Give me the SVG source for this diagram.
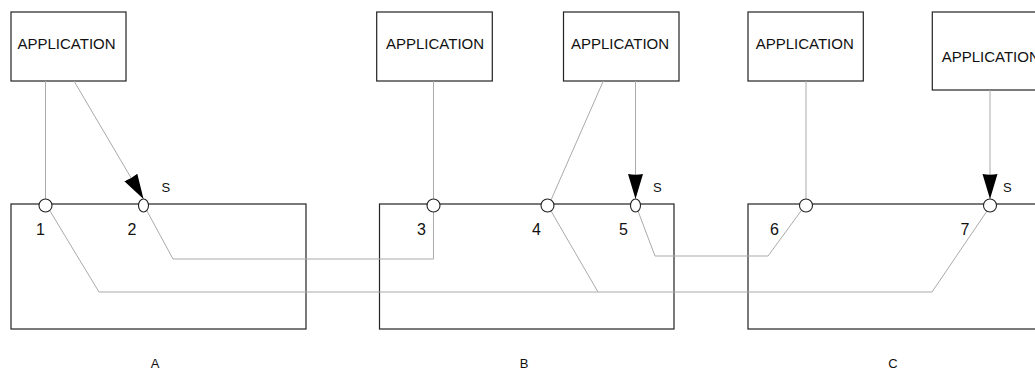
<svg xmlns="http://www.w3.org/2000/svg" width="1035" height="370" viewBox="0 0 1035 370">
<style>
.box{fill:#fff;stroke:#222;stroke-width:1.2}
.app{font-family:"Liberation Sans",Arial,sans-serif;font-size:15px;fill:#111}
.num{font-family:"Liberation Sans",Arial,sans-serif;font-size:16px;fill:#111}
.s{font-family:"Liberation Sans",Arial,sans-serif;font-size:13px;fill:#111}
.lbl{font-family:"Liberation Sans",Arial,sans-serif;font-size:13px;fill:#111;text-anchor:middle}
.wire{fill:none;stroke:#aaa;stroke-width:1}
.port{fill:#fff;stroke:#222;stroke-width:1.1}
</style>
<defs>
<marker id="arr" markerUnits="userSpaceOnUse" markerWidth="26" markerHeight="17" refX="25" refY="8" orient="auto">
<path d="M0,0.5 L25,8 L0,15.5 Q1.5,8 0,0.5 z" fill="#000"/>
</marker>
</defs>
<g id="blockA"><rect class="box" x="11" y="204" width="295" height="125"/></g>
<g id="blockB"><rect class="box" x="379.5" y="204" width="294.5" height="125"/></g>
<g id="blockC"><rect class="box" x="748" y="204" width="300" height="125"/></g>
<g id="app1"><rect class="box" x="11" y="12" width="115" height="69"/><text class="app" x="17.5" y="49">APPLICATION</text></g>
<g id="app2"><rect class="box" x="376.7" y="12" width="115.6" height="69"/><text class="app" x="386" y="49">APPLICATION</text></g>
<g id="app3"><rect class="box" x="563.5" y="12" width="115.5" height="69"/><text class="app" x="571" y="49">APPLICATION</text></g>
<g id="app4"><rect class="box" x="748" y="12" width="115.3" height="69"/><text class="app" x="755.7" y="49">APPLICATION</text></g>
<g id="app5"><rect class="box" x="932.3" y="12" width="120" height="78"/><text class="app" x="941.7" y="62">APPLICATION</text></g>
<g id="connectors">
<line class="wire" x1="45.5" y1="81" x2="45.5" y2="199"/>
<line class="wire" x1="74" y1="81" x2="143.5" y2="199" marker-end="url(#arr)"/>
<line class="wire" x1="433.5" y1="81" x2="433.5" y2="199"/>
<line class="wire" x1="603.3" y1="81" x2="551" y2="200"/>
<line class="wire" x1="635.5" y1="81" x2="635.5" y2="199" marker-end="url(#arr)"/>
<line class="wire" x1="806" y1="81" x2="806" y2="199"/>
<line class="wire" x1="990" y1="90" x2="990" y2="199" marker-end="url(#arr)"/>
<polyline class="wire" points="50,211 99,292 932,292 987,211"/>
<polyline class="wire" points="147,211 173,259 433.5,259 433.5,212"/>
<line class="wire" x1="551" y1="211" x2="598" y2="292"/>
<polyline class="wire" points="638,211 655,256 768,256 801,211"/>
</g>
<g id="port1"><circle class="port" cx="45.5" cy="205.5" r="6.5"/><text class="num" x="36" y="235">1</text></g>
<g id="port2"><ellipse class="port" cx="143.5" cy="205.5" rx="5" ry="6.5"/><text class="num" x="127.5" y="235">2</text><text class="s" x="161.5" y="192">S</text></g>
<g id="port3"><circle class="port" cx="433.5" cy="205.5" r="6.5"/><text class="num" x="417" y="235">3</text></g>
<g id="port4"><circle class="port" cx="547.5" cy="205.5" r="6.5"/><text class="num" x="532" y="235">4</text></g>
<g id="port5"><ellipse class="port" cx="635.5" cy="205.5" rx="5" ry="6.5"/><text class="num" x="619" y="235">5</text><text class="s" x="653" y="192">S</text></g>
<g id="port6"><circle class="port" cx="806" cy="205.5" r="6.5"/><text class="num" x="770" y="235">6</text></g>
<g id="port7"><circle class="port" cx="990" cy="205.5" r="6.5"/><text class="num" x="960.5" y="235">7</text><text class="s" x="1003" y="192">S</text></g>
<g id="labels">
<text class="lbl" x="155" y="368">A</text>
<text class="lbl" x="524" y="368">B</text>
<text class="lbl" x="893" y="368">C</text>
</g>
</svg>
